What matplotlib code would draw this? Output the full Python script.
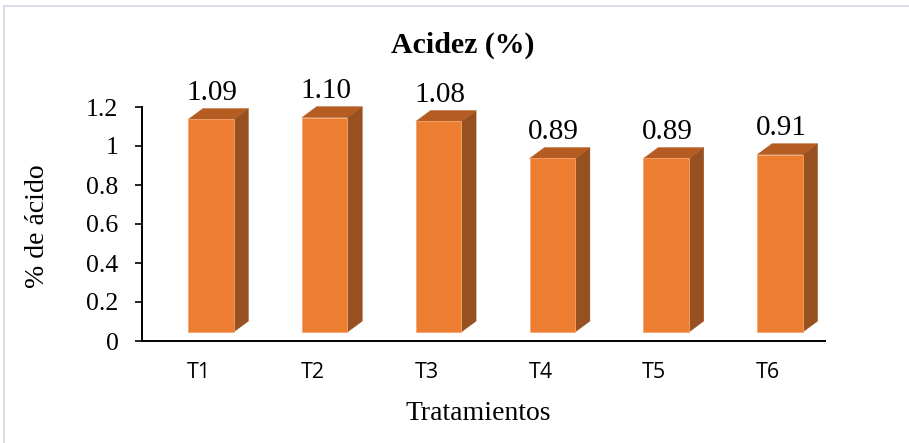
import matplotlib
matplotlib.use("Agg")
import matplotlib.pyplot as plt
from matplotlib.patches import Polygon, Rectangle

categories = ["T1", "T2", "T3", "T4", "T5", "T6"]
values = [1.09, 1.10, 1.08, 0.89, 0.89, 0.91]
value_labels = ["1.09", "1.10", "1.08", "0.89", "0.89", "0.91"]
yticks = [0, 0.2, 0.4, 0.6, 0.8, 1, 1.2]
ytick_labels = ["0", "0.2", "0.4", "0.6", "0.8", "1", "1.2"]

FRONT = "#ED7D31"
SIDE = "#97501F"
TOP = "#B45C21"
EDGE = "#F6A46C"

serif = ["Liberation Serif", "DejaVu Serif"]

fig = plt.figure(figsize=(9.09, 4.43), dpi=100)
fig.patch.set_facecolor("white")

# light chart-area frame
fig.patches.append(Rectangle((4 / 909, -0.05), 1.2, 1 - 6 / 443 + 0.05,
                             transform=fig.transFigure, fill=False,
                             edgecolor="#D9DEE6", linewidth=1.5))

ax = fig.add_axes([142 / 909, 1 - 341 / 443, (825 - 142) / 909, (341 - 107) / 443])
ax.set_xlim(-0.5, len(categories) - 0.5)
ax.set_ylim(0, 1.2)

# 3-D look: floor lift, depth offsets and perspective shift of the bars
floor = 0.046
width = 0.40
dx, dy = 0.13, 0.056
shift = 0.105

xs = [i + shift for i in range(len(categories))]
ax.bar(xs, values, width=width, bottom=floor, color=FRONT,
       edgecolor=EDGE, linewidth=0.6, zorder=3, clip_on=False)

for x, v, lab in zip(xs, values, value_labels):
    x0, x1 = x - width / 2, x + width / 2
    y0, y1 = floor, floor + v
    side = Polygon([(x1, y0), (x1 + dx, y0 + dy), (x1 + dx, y1 + dy), (x1, y1)],
                   closed=True, facecolor=SIDE, edgecolor=SIDE, linewidth=0.3,
                   zorder=2, clip_on=False)
    top = Polygon([(x0, y1), (x1, y1), (x1 + dx, y1 + dy), (x0 + dx, y1 + dy)],
                  closed=True, facecolor=TOP, edgecolor=TOP, linewidth=0.3,
                  zorder=2, clip_on=False)
    ax.add_patch(side)
    ax.add_patch(top)
    ax.text(x + 0.01, y1 + dy + 0.012, lab, ha="center", va="bottom",
            family=serif, fontsize=21, color="black", zorder=4, clip_on=False)

ax.set_xticks(range(len(categories)))
ax.set_xticklabels(categories, family=["Open Sans", "DejaVu Sans"], fontsize=15.5)
ax.tick_params(axis="x", length=0, pad=15)
ax.set_yticks(yticks)
ax.set_yticklabels(ytick_labels, family=serif, fontsize=18.5)
ax.tick_params(axis="y", length=5, width=1.2, pad=12, color="black")

for s in ("top", "right"):
    ax.spines[s].set_visible(False)
for s in ("left", "bottom"):
    ax.spines[s].set_linewidth(1.4)
    ax.spines[s].set_color("black")

fig.text(38 / 909, 1 - 226 / 443, "% de ácido", family=serif, fontsize=20,
         rotation=90, ha="center", va="center")
fig.text(478 / 909, 1 - 413 / 443, "Tratamientos", family=serif, fontsize=20,
         ha="center", va="center")
fig.text(463 / 909, 1 - 45 / 443, "Acidez (%)", family=serif, fontsize=21.5,
         fontweight="bold", ha="center", va="center")

fig.savefig("out.png", dpi=100, facecolor="white")
